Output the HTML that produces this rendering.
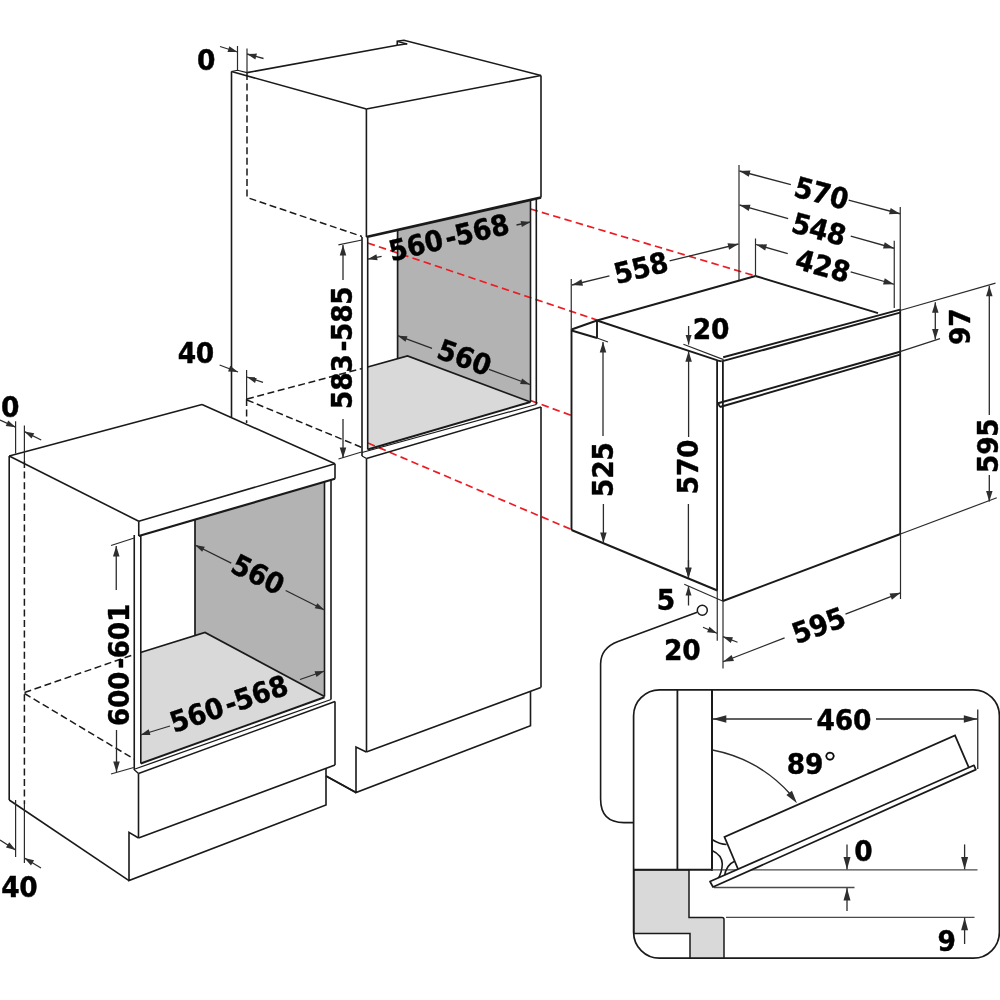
<!DOCTYPE html>
<html lang="en"><head><meta charset="utf-8"><title>Oven installation dimensions</title>
<style>
html,body{margin:0;padding:0;background:#fff;}
svg{display:block;will-change:transform;}
text{font-kerning:none;}
</style></head><body>
<svg width="1000" height="1000" viewBox="0 0 1000 1000">
<rect width="1000" height="1000" fill="#fff"/>
<polygon points="397.6,229.9332 530.5,199.83135 530.5,402 407.5,356 397.6,358.7" fill="#b3b3b3" stroke="none"/>
<polygon points="367.7,367 407.5,356 530.5,402 367.7,449.5" fill="#d9d9d9" stroke="none"/>
<line x1="530.5" y1="209" x2="755.5" y2="276" stroke="#ed1c24" stroke-width="1.7" stroke-linecap="butt" stroke-dasharray="7.5,4.3"/>
<line x1="367.7" y1="243" x2="597" y2="320" stroke="#ed1c24" stroke-width="1.7" stroke-linecap="butt" stroke-dasharray="7.5,4.3"/>
<line x1="530.5" y1="400.5" x2="571.5" y2="415.5" stroke="#ed1c24" stroke-width="1.7" stroke-linecap="butt" stroke-dasharray="7.5,4.3"/>
<line x1="368" y1="443" x2="571.6" y2="529.6" stroke="#ed1c24" stroke-width="1.7" stroke-linecap="butt" stroke-dasharray="7.5,4.3"/>
<line x1="231.5" y1="71.5" x2="231.5" y2="417.5" stroke="#1a1a1a" stroke-width="1.6" stroke-linecap="butt"/>
<polyline points="231.5,71.5 237.5,70.2 247,72.6" fill="none" stroke="#1a1a1a" stroke-width="1.1" stroke-linejoin="miter"/>
<line x1="231.5" y1="71.5" x2="366.4" y2="109" stroke="#1a1a1a" stroke-width="1.6" stroke-linecap="butt"/>
<line x1="247" y1="72.6" x2="397.25" y2="45.25" stroke="#1a1a1a" stroke-width="1.6" stroke-linecap="butt"/>
<polyline points="397.25,45.6 397.25,41.25 404,40.25 541,75.5" fill="none" stroke="#1a1a1a" stroke-width="1.6" stroke-linejoin="miter"/>
<line x1="397.25" y1="45.25" x2="407.2" y2="43.7" stroke="#1a1a1a" stroke-width="1.5" stroke-linecap="butt"/>
<line x1="398" y1="41.6" x2="407.2" y2="44" stroke="#1a1a1a" stroke-width="1.3" stroke-linecap="butt"/>
<line x1="366.4" y1="109" x2="541" y2="75.5" stroke="#1a1a1a" stroke-width="1.6" stroke-linecap="butt"/>
<line x1="366.4" y1="109" x2="366.4" y2="237" stroke="#1a1a1a" stroke-width="1.6" stroke-linecap="butt"/>
<line x1="541" y1="75.5" x2="541" y2="197.5" stroke="#1a1a1a" stroke-width="1.6" stroke-linecap="butt"/>
<line x1="366.4" y1="237" x2="541" y2="197.5" stroke="#1a1a1a" stroke-width="2.8" stroke-linecap="butt"/>
<polyline points="247,73 247,197.5 362,236.5" fill="none" stroke="#1a1a1a" stroke-width="1.5" stroke-linejoin="miter" stroke-dasharray="7,3.6"/>
<line x1="362" y1="237" x2="362" y2="456" stroke="#1a1a1a" stroke-width="1.6" stroke-linecap="butt"/>
<line x1="367.7" y1="238" x2="367.7" y2="449.5" stroke="#1a1a1a" stroke-width="1.6" stroke-linecap="butt"/>
<line x1="530.5" y1="199.5" x2="530.5" y2="402" stroke="#1a1a1a" stroke-width="1.6" stroke-linecap="butt"/>
<line x1="536.3" y1="198.8" x2="536.3" y2="404.5" stroke="#1a1a1a" stroke-width="1.6" stroke-linecap="butt"/>
<line x1="397.6" y1="229.9332" x2="397.6" y2="358.7" stroke="#1a1a1a" stroke-width="1.7" stroke-linecap="butt"/>
<polyline points="367.7,367 407.5,356 530.5,402" fill="none" stroke="#1a1a1a" stroke-width="1.7" stroke-linejoin="miter"/>
<line x1="367.7" y1="449.5" x2="530.5" y2="402" stroke="#1a1a1a" stroke-width="2.0" stroke-linecap="butt"/>
<line x1="362" y1="452.5" x2="536.3" y2="404.5" stroke="#1a1a1a" stroke-width="1.2" stroke-linecap="butt"/>
<line x1="366.5" y1="458.5" x2="541" y2="407" stroke="#1a1a1a" stroke-width="1.4" stroke-linecap="butt"/>
<line x1="362" y1="456" x2="366.5" y2="458.5" stroke="#1a1a1a" stroke-width="1.2" stroke-linecap="butt"/>
<line x1="366.5" y1="458.5" x2="366.5" y2="752" stroke="#1a1a1a" stroke-width="1.6" stroke-linecap="butt"/>
<line x1="541" y1="407" x2="541" y2="687.5" stroke="#1a1a1a" stroke-width="1.6" stroke-linecap="butt"/>
<line x1="366.3" y1="752" x2="540.8" y2="687.5" stroke="#1a1a1a" stroke-width="1.6" stroke-linecap="butt"/>
<polyline points="366.3,752 356,747 356,792.5 530.5,725.75 530.5,691.5" fill="none" stroke="#1a1a1a" stroke-width="1.6" stroke-linejoin="miter"/>
<line x1="356" y1="792.5" x2="326" y2="776" stroke="#1a1a1a" stroke-width="1.6" stroke-linecap="butt"/>
<line x1="246.6" y1="370" x2="246.6" y2="399" stroke="#2b2b2b" stroke-width="1.2" stroke-linecap="butt"/>
<line x1="246.6" y1="399" x2="246.6" y2="423" stroke="#1a1a1a" stroke-width="1.5" stroke-linecap="butt" stroke-dasharray="7,3.6"/>
<line x1="247" y1="399" x2="362" y2="368.5" stroke="#1a1a1a" stroke-width="1.5" stroke-linecap="butt" stroke-dasharray="7,3.6"/>
<line x1="247" y1="400" x2="362" y2="447.5" stroke="#1a1a1a" stroke-width="1.5" stroke-linecap="butt" stroke-dasharray="7,3.6"/>
<line x1="237.5" y1="46" x2="237.5" y2="70" stroke="#2b2b2b" stroke-width="1.2" stroke-linecap="butt"/>
<line x1="247" y1="48.5" x2="247" y2="73" stroke="#2b2b2b" stroke-width="1.2" stroke-linecap="butt"/>
<line x1="220" y1="46.5" x2="237.5" y2="52" stroke="#2b2b2b" stroke-width="1.3" stroke-linecap="butt"/>
<polygon points="237.50,52.00 227.54,52.01 229.34,46.29" fill="#2e2e2e"/>
<line x1="263.5" y1="58.5" x2="247" y2="54" stroke="#2b2b2b" stroke-width="1.3" stroke-linecap="butt"/>
<polygon points="247.00,54.00 256.95,53.61 255.38,59.39" fill="#2e2e2e"/>
<line x1="219.6" y1="365" x2="238" y2="372" stroke="#2b2b2b" stroke-width="1.3" stroke-linecap="butt"/>
<polygon points="238.00,372.00 228.05,371.43 230.19,365.82" fill="#2e2e2e"/>
<line x1="263" y1="382.4" x2="247" y2="377" stroke="#2b2b2b" stroke-width="1.3" stroke-linecap="butt"/>
<polygon points="247.00,377.00 256.96,377.20 255.04,382.88" fill="#2e2e2e"/>
<line x1="338.4" y1="244.8" x2="362" y2="240" stroke="#2b2b2b" stroke-width="1.2" stroke-linecap="butt"/>
<line x1="343" y1="280" x2="343" y2="245" stroke="#2b2b2b" stroke-width="1.3" stroke-linecap="butt"/>
<polygon points="343.00,245.00 346.25,255.50 339.75,255.50" fill="#2e2e2e"/>
<line x1="338.5" y1="459" x2="361.5" y2="452" stroke="#2b2b2b" stroke-width="1.2" stroke-linecap="butt"/>
<line x1="343" y1="419" x2="343" y2="458" stroke="#2b2b2b" stroke-width="1.3" stroke-linecap="butt"/>
<polygon points="343.00,458.00 339.75,447.50 346.25,447.50" fill="#2e2e2e"/>
<line x1="381.6" y1="256.3" x2="367.7" y2="259.2" stroke="#2b2b2b" stroke-width="1.3" stroke-linecap="butt"/>
<polygon points="367.70,259.20 376.39,254.32 377.61,260.20" fill="#2e2e2e"/>
<line x1="516.5" y1="225" x2="530.5" y2="222" stroke="#2b2b2b" stroke-width="1.3" stroke-linecap="butt"/>
<polygon points="530.50,222.00 521.84,226.92 520.58,221.06" fill="#2e2e2e"/>
<line x1="397.6" y1="335.7" x2="432.024" y2="348.388" stroke="#2b2b2b" stroke-width="1.3" stroke-linecap="butt"/>
<line x1="488.956" y1="369.372" x2="530" y2="384.5" stroke="#2b2b2b" stroke-width="1.3" stroke-linecap="butt"/>
<polygon points="530.00,384.50 520.08,383.94 522.09,378.49" fill="#2e2e2e"/>
<polygon points="397.60,335.70 407.52,336.26 405.51,341.71" fill="#2e2e2e"/>
<polygon points="195,519.591875 324.5,481.816725 324.5,696.5 205,632.5 195,635.6" fill="#b3b3b3" stroke="none"/>
<polygon points="140.5,652.5 205,632.5 324.5,696.5 140.5,763" fill="#d9d9d9" stroke="none"/>
<line x1="9.2" y1="456" x2="9.2" y2="800" stroke="#1a1a1a" stroke-width="1.6" stroke-linecap="butt"/>
<line x1="9.2" y1="456" x2="202" y2="404.5" stroke="#1a1a1a" stroke-width="1.6" stroke-linecap="butt"/>
<line x1="202" y1="404.5" x2="335" y2="463.75" stroke="#1a1a1a" stroke-width="1.6" stroke-linecap="butt"/>
<line x1="9.2" y1="456" x2="138.75" y2="521.25" stroke="#1a1a1a" stroke-width="1.6" stroke-linecap="butt"/>
<line x1="138.75" y1="521.25" x2="335" y2="463.75" stroke="#1a1a1a" stroke-width="1.6" stroke-linecap="butt"/>
<line x1="138.75" y1="521.25" x2="138.75" y2="536" stroke="#1a1a1a" stroke-width="1.6" stroke-linecap="butt"/>
<line x1="335" y1="463.75" x2="335" y2="478.75" stroke="#1a1a1a" stroke-width="1.6" stroke-linecap="butt"/>
<line x1="138.75" y1="536" x2="335" y2="478.75" stroke="#1a1a1a" stroke-width="2.2" stroke-linecap="butt"/>
<line x1="134.25" y1="535" x2="134.25" y2="770" stroke="#1a1a1a" stroke-width="1.6" stroke-linecap="butt"/>
<line x1="140.8" y1="536" x2="140.8" y2="763.5" stroke="#1a1a1a" stroke-width="1.6" stroke-linecap="butt"/>
<line x1="324.5" y1="481.816725" x2="324.5" y2="696.5" stroke="#1a1a1a" stroke-width="1.6" stroke-linecap="butt"/>
<line x1="331" y1="479.920675" x2="331" y2="699.5" stroke="#1a1a1a" stroke-width="1.6" stroke-linecap="butt"/>
<line x1="195" y1="519.591875" x2="195" y2="635.6" stroke="#1a1a1a" stroke-width="1.7" stroke-linecap="butt"/>
<polyline points="140.5,652.5 205,632.5 324.5,696.5" fill="none" stroke="#1a1a1a" stroke-width="1.7" stroke-linejoin="miter"/>
<line x1="140.8" y1="763.5" x2="324.5" y2="697.3" stroke="#1a1a1a" stroke-width="2.0" stroke-linecap="butt"/>
<line x1="135" y1="769" x2="331" y2="699.5" stroke="#1a1a1a" stroke-width="1.3" stroke-linecap="butt"/>
<line x1="138.5" y1="773.5" x2="335" y2="701.5" stroke="#1a1a1a" stroke-width="1.5" stroke-linecap="butt"/>
<line x1="134.25" y1="769.8" x2="138.5" y2="773.5" stroke="#1a1a1a" stroke-width="1.3" stroke-linecap="butt"/>
<line x1="138.5" y1="773.5" x2="138.5" y2="838" stroke="#1a1a1a" stroke-width="1.6" stroke-linecap="butt"/>
<line x1="335" y1="701.5" x2="335" y2="765" stroke="#1a1a1a" stroke-width="1.6" stroke-linecap="butt"/>
<line x1="138.5" y1="838" x2="335" y2="765" stroke="#1a1a1a" stroke-width="1.6" stroke-linecap="butt"/>
<polyline points="138.5,838 129,832.4 129,880.6 326,805 326,768" fill="none" stroke="#1a1a1a" stroke-width="1.6" stroke-linejoin="miter"/>
<line x1="9.2" y1="800" x2="129" y2="880.6" stroke="#1a1a1a" stroke-width="1.6" stroke-linecap="butt"/>
<line x1="326" y1="776" x2="356" y2="792.5" stroke="#1a1a1a" stroke-width="1.6" stroke-linecap="butt"/>
<line x1="24.4" y1="461" x2="24.4" y2="804" stroke="#1a1a1a" stroke-width="1.5" stroke-linecap="butt" stroke-dasharray="7,3.6"/>
<line x1="24.4" y1="804" x2="24.4" y2="863" stroke="#2b2b2b" stroke-width="1.2" stroke-linecap="butt"/>
<line x1="24.5" y1="692.5" x2="134" y2="654.5" stroke="#1a1a1a" stroke-width="1.5" stroke-linecap="butt" stroke-dasharray="7,3.6"/>
<line x1="24.5" y1="693.5" x2="134" y2="759" stroke="#1a1a1a" stroke-width="1.5" stroke-linecap="butt" stroke-dasharray="7,3.6"/>
<line x1="15.6" y1="421.2" x2="15.6" y2="453.5" stroke="#2b2b2b" stroke-width="1.2" stroke-linecap="butt"/>
<line x1="24.4" y1="425.6" x2="24.4" y2="461" stroke="#2b2b2b" stroke-width="1.2" stroke-linecap="butt"/>
<line x1="0" y1="420" x2="15.6" y2="427.2" stroke="#2b2b2b" stroke-width="1.3" stroke-linecap="butt"/>
<polygon points="15.60,427.20 5.72,425.94 8.23,420.50" fill="#2e2e2e"/>
<line x1="41.2" y1="440" x2="24.4" y2="431.6" stroke="#2b2b2b" stroke-width="1.3" stroke-linecap="butt"/>
<polygon points="24.40,431.60 34.24,433.17 31.56,438.53" fill="#2e2e2e"/>
<line x1="15.6" y1="800" x2="15.6" y2="857" stroke="#2b2b2b" stroke-width="1.2" stroke-linecap="butt"/>
<line x1="0" y1="840" x2="15.6" y2="850" stroke="#2b2b2b" stroke-width="1.3" stroke-linecap="butt"/>
<polygon points="15.60,850.00 5.98,847.40 9.22,842.35" fill="#2e2e2e"/>
<line x1="41" y1="868" x2="24.4" y2="858" stroke="#2b2b2b" stroke-width="1.3" stroke-linecap="butt"/>
<polygon points="24.40,858.00 34.09,860.33 30.99,865.47" fill="#2e2e2e"/>
<line x1="111" y1="545.5" x2="134.25" y2="538" stroke="#2b2b2b" stroke-width="1.2" stroke-linecap="butt"/>
<line x1="116.25" y1="590" x2="116.25" y2="546" stroke="#2b2b2b" stroke-width="1.3" stroke-linecap="butt"/>
<polygon points="116.25,546.00 119.50,556.50 113.00,556.50" fill="#2e2e2e"/>
<line x1="111" y1="774" x2="133.75" y2="767.5" stroke="#2b2b2b" stroke-width="1.2" stroke-linecap="butt"/>
<line x1="116.5" y1="730" x2="116.5" y2="772" stroke="#2b2b2b" stroke-width="1.3" stroke-linecap="butt"/>
<polygon points="116.50,772.00 113.25,761.50 119.75,761.50" fill="#2e2e2e"/>
<line x1="195" y1="545" x2="231.26" y2="563.2" stroke="#2b2b2b" stroke-width="1.3" stroke-linecap="butt"/>
<line x1="285.65" y1="590.5" x2="324.5" y2="610" stroke="#2b2b2b" stroke-width="1.3" stroke-linecap="butt"/>
<polygon points="324.50,610.00 314.71,608.33 317.31,603.15" fill="#2e2e2e"/>
<polygon points="195.00,545.00 204.79,546.67 202.19,551.85" fill="#2e2e2e"/>
<line x1="170" y1="726" x2="140.5" y2="735" stroke="#2b2b2b" stroke-width="1.3" stroke-linecap="butt"/>
<polygon points="140.50,735.00 148.71,729.36 150.46,735.10" fill="#2e2e2e"/>
<line x1="300" y1="679.5" x2="324.5" y2="671" stroke="#2b2b2b" stroke-width="1.3" stroke-linecap="butt"/>
<polygon points="324.50,671.00 316.51,676.95 314.54,671.28" fill="#2e2e2e"/>
<line x1="571.5" y1="329.5" x2="571.5" y2="530" stroke="#1a1a1a" stroke-width="1.9" stroke-linecap="butt"/>
<line x1="571.5" y1="329.5" x2="597" y2="320.5" stroke="#1a1a1a" stroke-width="1.9" stroke-linecap="butt"/>
<line x1="597" y1="320.5" x2="755.5" y2="276" stroke="#1a1a1a" stroke-width="1.9" stroke-linecap="butt"/>
<line x1="597" y1="320.5" x2="597" y2="338" stroke="#1a1a1a" stroke-width="1.9" stroke-linecap="butt"/>
<line x1="571.5" y1="330.5" x2="597" y2="338" stroke="#1a1a1a" stroke-width="1.9" stroke-linecap="butt"/>
<line x1="597" y1="338" x2="608" y2="342" stroke="#2b2b2b" stroke-width="1.2" stroke-linecap="butt"/>
<line x1="597" y1="320.5" x2="716.8" y2="360.2" stroke="#1a1a1a" stroke-width="1.9" stroke-linecap="butt"/>
<line x1="755.5" y1="276" x2="878" y2="313.2" stroke="#1a1a1a" stroke-width="1.9" stroke-linecap="butt"/>
<line x1="723.2" y1="357.2" x2="900" y2="309.6" stroke="#1a1a1a" stroke-width="2.0" stroke-linecap="butt"/>
<line x1="721.6" y1="361.4" x2="900" y2="312.6" stroke="#1a1a1a" stroke-width="2.0" stroke-linecap="butt"/>
<polyline points="716.8,360.4 721.6,361.4" fill="none" stroke="#1a1a1a" stroke-width="1.9" stroke-linejoin="miter"/>
<line x1="717.1" y1="359.8" x2="717.1" y2="590.8" stroke="#1a1a1a" stroke-width="1.8" stroke-linecap="butt"/>
<line x1="722.9" y1="361.4" x2="722.9" y2="601.4" stroke="#1a1a1a" stroke-width="1.8" stroke-linecap="butt"/>
<line x1="718" y1="403.2" x2="900" y2="351.8" stroke="#1a1a1a" stroke-width="2.0" stroke-linecap="butt"/>
<line x1="720" y1="407" x2="900" y2="354.6" stroke="#1a1a1a" stroke-width="2.0" stroke-linecap="butt"/>
<line x1="718" y1="403.2" x2="720" y2="407" stroke="#1a1a1a" stroke-width="1.7" stroke-linecap="butt"/>
<line x1="900.2" y1="309" x2="900.2" y2="534.3" stroke="#1a1a1a" stroke-width="1.8" stroke-linecap="butt"/>
<line x1="722.9" y1="601" x2="900.5" y2="534" stroke="#1a1a1a" stroke-width="1.9" stroke-linecap="butt"/>
<line x1="571.5" y1="530" x2="717.4" y2="590.5" stroke="#1a1a1a" stroke-width="1.9" stroke-linecap="butt"/>
<line x1="684.25" y1="584.2" x2="722.5" y2="601" stroke="#2b2b2b" stroke-width="1.2" stroke-linecap="butt"/>
<line x1="717.25" y1="590.5" x2="717.25" y2="640.75" stroke="#2b2b2b" stroke-width="1.2" stroke-linecap="butt"/>
<line x1="723" y1="601" x2="723" y2="668.5" stroke="#2b2b2b" stroke-width="1.2" stroke-linecap="butt"/>
<line x1="900.5" y1="534" x2="900.5" y2="599" stroke="#2b2b2b" stroke-width="1.2" stroke-linecap="butt"/>
<line x1="739" y1="165" x2="739" y2="280" stroke="#2b2b2b" stroke-width="1.2" stroke-linecap="butt"/>
<line x1="755.5" y1="238.5" x2="755.5" y2="276" stroke="#2b2b2b" stroke-width="1.2" stroke-linecap="butt"/>
<line x1="900.25" y1="207" x2="900.25" y2="310.5" stroke="#2b2b2b" stroke-width="1.2" stroke-linecap="butt"/>
<line x1="894.25" y1="240.75" x2="894.25" y2="308" stroke="#2b2b2b" stroke-width="1.2" stroke-linecap="butt"/>
<line x1="571.25" y1="279" x2="571.25" y2="330" stroke="#2b2b2b" stroke-width="1.2" stroke-linecap="butt"/>
<line x1="572" y1="285" x2="609.4625" y2="275.775" stroke="#2b2b2b" stroke-width="1.3" stroke-linecap="butt"/>
<line x1="669.569" y1="260.974" x2="738.5" y2="244" stroke="#2b2b2b" stroke-width="1.3" stroke-linecap="butt"/>
<polygon points="738.50,244.00 729.08,249.67 727.53,243.35" fill="#2e2e2e"/>
<polygon points="572.00,285.00 581.42,279.33 582.97,285.65" fill="#2e2e2e"/>
<line x1="739.5" y1="171" x2="790.86" y2="184.68" stroke="#2b2b2b" stroke-width="1.3" stroke-linecap="butt"/>
<line x1="848.64" y1="200.07" x2="900" y2="213.75" stroke="#2b2b2b" stroke-width="1.3" stroke-linecap="butt"/>
<polygon points="900.00,213.75 889.02,214.19 890.69,207.91" fill="#2e2e2e"/>
<polygon points="739.50,171.00 750.48,170.56 748.81,176.84" fill="#2e2e2e"/>
<line x1="739.5" y1="205" x2="788.1675" y2="218.62375" stroke="#2b2b2b" stroke-width="1.3" stroke-linecap="butt"/>
<line x1="850.74" y1="236.14" x2="894" y2="248.25" stroke="#2b2b2b" stroke-width="1.3" stroke-linecap="butt"/>
<polygon points="894.00,248.25 883.01,248.55 884.76,242.29" fill="#2e2e2e"/>
<polygon points="739.50,205.00 750.49,204.70 748.74,210.96" fill="#2e2e2e"/>
<line x1="756" y1="244.5" x2="787.74" y2="253.6425" stroke="#2b2b2b" stroke-width="1.3" stroke-linecap="butt"/>
<line x1="850.668" y1="271.7685" x2="894" y2="284.25" stroke="#2b2b2b" stroke-width="1.3" stroke-linecap="butt"/>
<polygon points="894.00,284.25 883.01,284.47 884.81,278.22" fill="#2e2e2e"/>
<polygon points="756.00,244.50 766.99,244.28 765.19,250.53" fill="#2e2e2e"/>
<line x1="683.4" y1="344.2" x2="723.6" y2="359.6" stroke="#2b2b2b" stroke-width="1.2" stroke-linecap="butt"/>
<line x1="688.6" y1="326" x2="688.6" y2="344.6" stroke="#2b2b2b" stroke-width="1.3" stroke-linecap="butt"/>
<polygon points="688.60,344.60 685.60,335.10 691.60,335.10" fill="#2e2e2e"/>
<line x1="688.6" y1="437" x2="688.6" y2="351.2" stroke="#2b2b2b" stroke-width="1.3" stroke-linecap="butt"/>
<polygon points="688.60,351.20 691.85,361.70 685.35,361.70" fill="#2e2e2e"/>
<line x1="688.4" y1="504" x2="688.4" y2="578" stroke="#2b2b2b" stroke-width="1.3" stroke-linecap="butt"/>
<polygon points="688.40,578.00 685.15,567.50 691.65,567.50" fill="#2e2e2e"/>
<line x1="603" y1="436" x2="603" y2="342" stroke="#2b2b2b" stroke-width="1.3" stroke-linecap="butt"/>
<polygon points="603.00,342.00 606.25,352.50 599.75,352.50" fill="#2e2e2e"/>
<line x1="603.4" y1="504" x2="603.4" y2="543" stroke="#2b2b2b" stroke-width="1.3" stroke-linecap="butt"/>
<polygon points="603.40,543.00 600.15,532.50 606.65,532.50" fill="#2e2e2e"/>
<line x1="688.5" y1="560" x2="688.5" y2="577.75" stroke="#2b2b2b" stroke-width="1.3" stroke-linecap="butt"/>
<polygon points="688.50,577.75 685.50,568.25 691.50,568.25" fill="#2e2e2e"/>
<line x1="688.5" y1="605.5" x2="688.5" y2="586" stroke="#2b2b2b" stroke-width="1.3" stroke-linecap="butt"/>
<polygon points="688.50,586.00 691.50,595.50 685.50,595.50" fill="#2e2e2e"/>
<line x1="900" y1="310.5" x2="995.5" y2="283.2" stroke="#2b2b2b" stroke-width="1.2" stroke-linecap="butt"/>
<line x1="900" y1="351.6" x2="940" y2="338.6" stroke="#2b2b2b" stroke-width="1.2" stroke-linecap="butt"/>
<line x1="935.3" y1="320" x2="935.3" y2="302.25" stroke="#2b2b2b" stroke-width="1.3" stroke-linecap="butt"/>
<polygon points="935.30,302.25 938.55,312.75 932.05,312.75" fill="#2e2e2e"/>
<line x1="935.3" y1="320" x2="935.3" y2="339.6" stroke="#2b2b2b" stroke-width="1.3" stroke-linecap="butt"/>
<polygon points="935.30,339.60 932.05,329.10 938.55,329.10" fill="#2e2e2e"/>
<line x1="900.5" y1="534" x2="996.8" y2="497.8" stroke="#2b2b2b" stroke-width="1.2" stroke-linecap="butt"/>
<line x1="989.3" y1="415" x2="989.3" y2="285.75" stroke="#2b2b2b" stroke-width="1.3" stroke-linecap="butt"/>
<polygon points="989.30,285.75 992.55,296.25 986.05,296.25" fill="#2e2e2e"/>
<line x1="989.3" y1="475" x2="989.3" y2="501.6" stroke="#2b2b2b" stroke-width="1.3" stroke-linecap="butt"/>
<polygon points="989.30,501.60 986.05,491.10 992.55,491.10" fill="#2e2e2e"/>
<line x1="723" y1="661.75" x2="784.5925" y2="637.82435" stroke="#2b2b2b" stroke-width="1.3" stroke-linecap="butt"/>
<line x1="845.475" y1="614.1745" x2="900.5" y2="592.8" stroke="#2b2b2b" stroke-width="1.3" stroke-linecap="butt"/>
<polygon points="900.50,592.80 891.89,599.63 889.54,593.57" fill="#2e2e2e"/>
<polygon points="723.00,661.75 731.61,654.92 733.96,660.98" fill="#2e2e2e"/>
<line x1="703" y1="627.25" x2="717" y2="633.25" stroke="#2b2b2b" stroke-width="1.3" stroke-linecap="butt"/>
<polygon points="717.00,633.25 707.09,632.27 709.45,626.75" fill="#2e2e2e"/>
<line x1="737.5" y1="642.25" x2="723" y2="636.7" stroke="#2b2b2b" stroke-width="1.3" stroke-linecap="butt"/>
<polygon points="723.00,636.70 732.94,637.29 730.80,642.90" fill="#2e2e2e"/>
<path d="M697.2,612.3 L618,641.4 Q600.6,648 600.6,664 L600.6,799 Q600.6,822.6 624,822.6 L633.6,822.6" fill="none" stroke="#1a1a1a" stroke-width="1.6"/>
<circle cx="702.3" cy="610.3" r="5" fill="#fff" stroke="#1a1a1a" stroke-width="1.5"/>
<rect x="633.6" y="689.8" width="365.8" height="268.4" rx="26" ry="26" fill="none" stroke="#1a1a1a" stroke-width="1.7"/>
<path d="M634,869.8 L689,869.8 L689,917.6 L722,917.6 Q724,917.6 724,919.6 L724,958 L690,958 L690,933.6 L634,933.6 Z" fill="#d9d9d9" stroke="#1a1a1a" stroke-width="1.5"/>
<line x1="677.4" y1="689.8" x2="677.4" y2="869.8" stroke="#1a1a1a" stroke-width="1.8" stroke-linecap="butt"/>
<line x1="712" y1="689.8" x2="712" y2="870.7" stroke="#1a1a1a" stroke-width="2.0" stroke-linecap="butt"/>
<line x1="633.6" y1="869.8" x2="712.9" y2="869.8" stroke="#1a1a1a" stroke-width="2.0" stroke-linecap="butt"/>
<line x1="712" y1="869.8" x2="977.5" y2="869.8" stroke="#4a4a4a" stroke-width="1.3" stroke-linecap="butt"/>
<line x1="714" y1="887.5" x2="854.5" y2="887.5" stroke="#4a4a4a" stroke-width="1.3" stroke-linecap="butt"/>
<line x1="726" y1="917.3" x2="974.5" y2="917.3" stroke="#4a4a4a" stroke-width="1.3" stroke-linecap="butt"/>
<path d="M712,839.5 Q720,844.5 726.5,844.5" fill="none" stroke="#1a1a1a" stroke-width="1.6"/>
<path d="M712,850.5 Q722,855 722.3,864 Q722,872 718,879" fill="none" stroke="#1a1a1a" stroke-width="1.6"/>
<path d="M724.5,876 Q726,865 735,861" fill="none" stroke="#1a1a1a" stroke-width="1.6"/>
<polyline points="738,869 724.5,837 955,735.5 968.8,767.5" fill="#fff" stroke="#1a1a1a" stroke-width="1.8" stroke-linejoin="miter"/>
<polygon points="710,881.5 974,765.3 975.8,769.6 713,887" fill="#fff" stroke="#1a1a1a" stroke-width="1.7" stroke-linejoin="round"/>
<line x1="977.75" y1="709.5" x2="977.75" y2="769" stroke="#2b2b2b" stroke-width="1.3" stroke-linecap="butt"/>
<line x1="812" y1="719" x2="712.8" y2="719" stroke="#2b2b2b" stroke-width="1.3" stroke-linecap="butt"/>
<polygon points="712.80,719.00 726.30,715.25 726.30,722.75" fill="#2e2e2e"/>
<line x1="876" y1="719" x2="977.3" y2="719" stroke="#2b2b2b" stroke-width="1.3" stroke-linecap="butt"/>
<polygon points="977.30,719.00 963.80,722.75 963.80,715.25" fill="#2e2e2e"/>
<path d="M712.5,750 A140.8,140.8 0 0 1 790.4,794.2" fill="none" stroke="#2b2b2b" stroke-width="1.4"/>
<polygon points="797.00,803.20 786.36,794.95 791.94,790.73" fill="#2e2e2e"/>
<line x1="847" y1="844.4" x2="847" y2="869.4" stroke="#2b2b2b" stroke-width="1.3" stroke-linecap="butt"/>
<polygon points="847.00,869.40 843.50,856.90 850.50,856.90" fill="#2e2e2e"/>
<line x1="847" y1="911" x2="847" y2="887.9" stroke="#2b2b2b" stroke-width="1.3" stroke-linecap="butt"/>
<polygon points="847.00,887.90 850.50,900.40 843.50,900.40" fill="#2e2e2e"/>
<line x1="964.6" y1="844.4" x2="964.6" y2="869.4" stroke="#2b2b2b" stroke-width="1.3" stroke-linecap="butt"/>
<polygon points="964.60,869.40 961.10,856.90 968.10,856.90" fill="#2e2e2e"/>
<line x1="964.6" y1="944" x2="964.6" y2="917.7" stroke="#2b2b2b" stroke-width="1.3" stroke-linecap="butt"/>
<polygon points="964.60,917.70 968.10,930.20 961.10,930.20" fill="#2e2e2e"/>
<g font-family='"DejaVu Sans Condensed","DejaVu Sans","Liberation Sans",sans-serif' font-weight="700" fill="#000" stroke="#000" stroke-width="0.4" stroke-linejoin="round">
<text transform="translate(206.2,59) rotate(0) scale(1.03,1)" x="-9.01" y="10.52" font-size="28.6">0</text>
<text transform="translate(196,352.5) rotate(0) scale(1.03,1)" x="-17.84 -0.17" y="10.52" font-size="28.6">40</text>
<text transform="translate(10.2,406.8) rotate(0) scale(1.03,1)" x="-9.01" y="10.52" font-size="28.6">0</text>
<text transform="translate(19.5,886.5) rotate(0) scale(1.03,1)" x="-17.84 -0.17" y="10.52" font-size="28.6">40</text>
<text transform="translate(341.5,347.5) rotate(-90) scale(1.03,1)" x="-59.64 -41.97 -24.30 -3.84 6.28 23.95 41.62" y="10.52" font-size="28.6">583-585</text>
<text transform="translate(449,237) rotate(-13.3) scale(1.03,1)" x="-59.78 -42.11 -24.44 -3.98 6.14 23.81 41.48" y="10.52" font-size="28.6">560-568</text>
<text transform="translate(465,357.2) rotate(20.2) scale(1.03,1)" x="-26.96 -9.29 8.37" y="10.52" font-size="28.6">560</text>
<text transform="translate(118,665) rotate(-90) scale(1.03,1)" x="-59.50 -41.83 -24.16 -3.69 6.43 24.10 41.77" y="10.52" font-size="28.6">600-601</text>
<text transform="translate(258.6,574.2) rotate(26.6) scale(1.03,1)" x="-26.96 -9.29 8.37" y="10.52" font-size="28.6">560</text>
<text transform="translate(229,703.3) rotate(-18.8) scale(1.03,1)" x="-59.78 -42.11 -24.44 -3.98 6.14 23.81 41.48" y="10.52" font-size="28.6">560-568</text>
<text transform="translate(641,267.5) rotate(-13.9) scale(1.03,1)" x="-26.82 -9.15 8.52" y="10.52" font-size="28.6">558</text>
<text transform="translate(822,192.8) rotate(14.6) scale(1.03,1)" x="-26.96 -9.29 8.37" y="10.52" font-size="28.6">570</text>
<text transform="translate(819.3,228.8) rotate(15.2) scale(1.03,1)" x="-26.82 -9.15 8.52" y="10.52" font-size="28.6">548</text>
<text transform="translate(823,265.5) rotate(15.6) scale(1.03,1)" x="-26.54 -8.87 8.80" y="10.52" font-size="28.6">428</text>
<text transform="translate(959.5,327) rotate(-90) scale(1.03,1)" x="-17.41 0.25" y="10.52" font-size="28.6">97</text>
<text transform="translate(987,445.6) rotate(-90) scale(1.03,1)" x="-26.68 -9.01 8.66" y="10.52" font-size="28.6">595</text>
<text transform="translate(818.6,625) rotate(-20.2) scale(1.03,1)" x="-26.68 -9.01 8.66" y="10.52" font-size="28.6">595</text>
<text transform="translate(711.6,328.4) rotate(0) scale(1.03,1)" x="-18.27 -0.60" y="10.52" font-size="28.6">20</text>
<text transform="translate(602.5,469.5) rotate(-90) scale(1.03,1)" x="-26.68 -9.01 8.66" y="10.52" font-size="28.6">525</text>
<text transform="translate(687.5,466.5) rotate(-90) scale(1.03,1)" x="-26.96 -9.29 8.37" y="10.52" font-size="28.6">570</text>
<text transform="translate(666,599) rotate(0) scale(1.03,1)" x="-9.01" y="10.52" font-size="28.6">5</text>
<text transform="translate(682.75,649.4) rotate(0) scale(1.03,1)" x="-18.27 -0.60" y="10.52" font-size="28.6">20</text>
<text transform="translate(844,719) rotate(0) scale(1.03,1)" x="-26.68 -9.01 8.66" y="10.52" font-size="28.6">460</text>
<text transform="translate(805,763.5) rotate(0) scale(1.03,1)" x="-17.70 -0.03" y="10.52" font-size="28.6">89</text>
<text x="822" y="775.3" font-size="32" font-weight="200" stroke="#000" stroke-width="0.45" font-family='"DejaVu Sans","Liberation Sans",sans-serif'>°</text>
<text transform="translate(863.5,850.5) rotate(0) scale(1.03,1)" x="-9.01" y="10.52" font-size="28.6">0</text>
<text transform="translate(946.5,940) rotate(0) scale(1.03,1)" x="-8.72" y="10.52" font-size="28.6">9</text>
</g>
</svg>
</body></html>
